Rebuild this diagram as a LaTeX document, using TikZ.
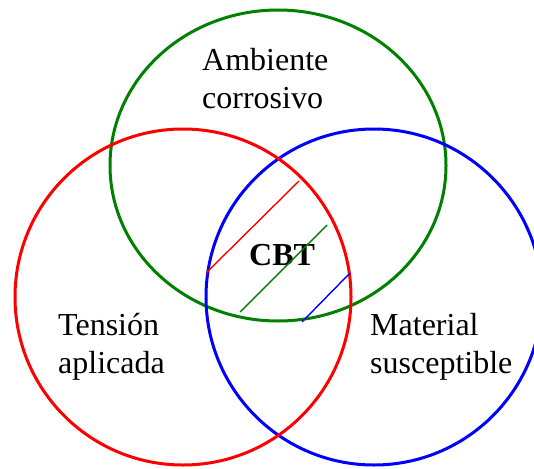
\documentclass[tikz,border=0pt]{standalone}
\usepackage{fontspec}
\setmainfont{Liberation Serif}
\definecolor{vgreen}{RGB}{0,128,0}
\begin{document}
\begin{tikzpicture}[x=1pt,y=-1pt,
  ring/.style={line width=3pt},
  hatch/.style={line width=1.4pt},
  lbl/.style={inner sep=0pt, align=left, anchor=base west, font=\fontsize{32}{37.5}\selectfont}]
\useasboundingbox (0,0) rectangle (534,468);
% circles
\draw[ring, draw=vgreen] (278,165.5) ellipse [x radius=168, y radius=155.5];
\draw[ring, draw=blue] (374,297) circle [radius=168];
\draw[ring, draw=red] (183,297) circle [radius=168];
% labels
\node[lbl] (amb) at (202,108.5) {Ambiente\\corrosivo};
\node[lbl] (ten) at (58,373) {Tensión\\aplicada};
\node[lbl] (mat) at (370,373) {Material\\susceptible};
\node[lbl, font=\fontsize{32}{37.5}\selectfont\bfseries] (cbt) at (249,265) {CBT};
% hatching
\coordinate (r1) at (206,273); \coordinate (r2) at (299,181);
\coordinate (g1) at (240,312); \coordinate (g2) at (327,225);
\coordinate (b1) at (302,322); \coordinate (b2) at (350,273);
\draw[hatch, red] (r1) -- (r2);
\draw[hatch, vgreen] (g1) -- (g2);
\draw[hatch, blue] (b1) -- (b2);
\end{tikzpicture}
\end{document}
